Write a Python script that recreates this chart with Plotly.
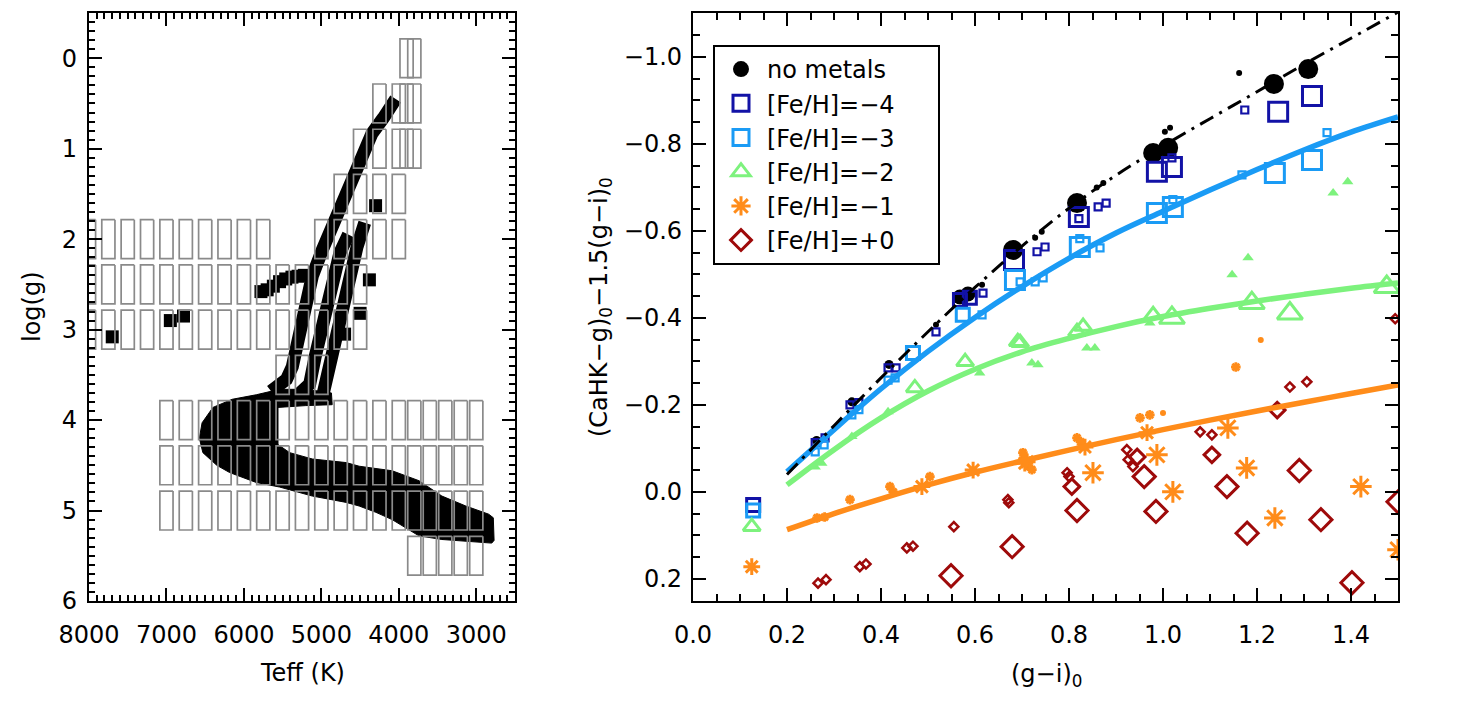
import plotly.graph_objects as go

# ================= LEFT PANEL DATA (Teff, log g) =================
ms_teff = [6575, 6540, 6400, 6150, 5840, 5540, 5200, 4870, 4860, 5200, 5560, 5560, 5410, 5117,
           4680, 4512, 4087, 3740, 3444, 3135, 2840, 2780, 2770, 2800, 3444, 3740, 4087, 4295,
           4512, 4680, 5117, 5540, 5840, 6185, 6350, 6530, 6575]
ms_logg = [4.20, 4.03, 3.86, 3.77, 3.72, 3.66, 3.66, 3.70, 3.83, 3.84, 3.86, 4.27, 4.36, 4.43,
           4.47, 4.51, 4.56, 4.67, 4.84, 4.95, 5.04, 5.08, 5.33, 5.36, 5.32, 5.28, 5.10, 5.02,
           4.95, 4.91, 4.84, 4.74, 4.69, 4.58, 4.50, 4.36, 4.20]

rgb1_teff = [5650, 5450, 5375, 5300, 5246, 5117, 4988, 4859, 4730, 4602, 4470, 4345, 4200, 4110, 4040]
rgb1_logg = [3.68, 3.55, 3.41, 3.15, 2.89, 2.41, 2.12, 1.86, 1.57, 1.31, 1.08, 0.83, 0.66, 0.54, 0.45]
rgb2_teff = [5300, 5150, 5080, 5000, 4870, 4760, 4650]
rgb2_logg = [3.72, 3.60, 3.30, 3.00, 2.50, 2.15, 1.95]
rgb3_teff = [4980, 4898, 4808, 4730, 4641, 4538, 4440]
rgb3_logg = [3.72, 3.41, 3.00, 2.78, 2.45, 2.08, 1.82]

pts_teff = [7700, 6950, 6780, 5780, 5700, 5620, 5540, 5460, 5380, 5300, 5220, 4300, 4380, 4500, 4700]
pts_logg = [3.08, 2.90, 2.85, 2.58, 2.56, 2.52, 2.47, 2.44, 2.42, 2.41, 2.40, 1.63, 2.45, 2.82, 3.05]

box_rows_logg = [0.0, 0.5, 1.0, 1.5, 2.0, 2.5, 3.0, 3.5, 4.0, 4.5, 5.0, 5.5]
box_rows_teff = [
    [3900, 3800],
    [4250, 4000, 3900, 3800],
    [4500, 4250, 4000, 3900, 3800],
    [4750, 4500, 4250, 4000],
    [8000, 7750, 7500, 7250, 7000, 6750, 6500, 6250, 6000, 5750, 5000, 4750, 4500, 4250, 4000],
    [8000, 7750, 7500, 7250, 7000, 6750, 6500, 6250, 6000, 5750, 5500, 5250, 5000, 4750, 4500],
    [8000, 7750, 7500, 7250, 7000, 6750, 6500, 6250, 6000, 5750, 5500, 5250, 5000, 4750, 4500],
    [5500, 5250, 5000],
    [7000, 6750, 6500, 6250, 6000, 5750, 5500, 5250, 5000, 4750, 4500, 4250, 4000, 3800, 3600, 3400, 3200, 3000],
    [7000, 6750, 6500, 6250, 6000, 5750, 5500, 5250, 5000, 4750, 4500, 4250, 4000, 3800, 3600, 3400, 3200, 3000],
    [7000, 6750, 6500, 6250, 6000, 5750, 5500, 5250, 5000, 4750, 4500, 4250, 4000, 3800, 3600, 3400, 3200, 3000],
    [3800, 3600, 3400, 3200, 3000],
]

left_xticks = [8000, 7000, 6000, 5000, 4000, 3000]
left_yticks = [0, 1, 2, 3, 4, 5, 6]

# ================= RIGHT PANEL DATA =================
nm_big_x = [0.681, 0.817, 0.979, 1.011, 1.236, 1.309]
nm_big_y = [-0.556, -0.664, -0.779, -0.791, -0.938, -0.972]
nm_mid_x = [0.568, 0.585]
nm_mid_y = [-0.448, -0.455]
nm_small_x = [0.263, 0.338, 0.417]
nm_small_y = [-0.118, -0.207, -0.293]
nm_tiny_x = [1.162, 1.004, 1.015, 0.859, 0.873, 0.728, 0.742, 0.615, 0.517]
nm_tiny_y = [-0.963, -0.828, -0.837, -0.700, -0.710, -0.584, -0.598, -0.476, -0.384]

m4_big_x = [1.317, 1.245, 1.019, 0.987, 0.821, 0.683]
m4_big_y = [-0.910, -0.874, -0.747, -0.736, -0.632, -0.533]
m4_mid_x = [0.568, 0.589, 0.128]
m4_mid_y = [-0.441, -0.446, 0.030]
m4_small_x = [0.260, 0.281, 0.334, 0.353, 0.415, 0.432, 0.517, 0.617, 0.732, 0.749, 0.862, 0.879, 0.821, 1.019, 1.174]
m4_small_y = [-0.113, -0.124, -0.200, -0.205, -0.285, -0.285, -0.368, -0.457, -0.552, -0.563, -0.655, -0.664, -0.628, -0.768, -0.878]

m3_big_x = [1.317, 1.238, 1.021, 0.987, 0.823, 0.685]
m3_big_y = [-0.763, -0.733, -0.655, -0.641, -0.563, -0.487]
m3_mid_x = [0.574, 0.468, 0.128]
m3_mid_y = [-0.407, -0.319, 0.043]
m3_small_x = [1.349, 1.168, 0.866, 0.745, 0.728, 0.696, 0.615, 0.415, 0.430, 0.338, 0.353, 0.260, 0.279, 1.021, 0.823]
m3_small_y = [-0.826, -0.729, -0.561, -0.492, -0.483, -0.483, -0.407, -0.257, -0.262, -0.177, -0.189, -0.092, -0.108, -0.672, -0.582]

m2_big_x = [1.476, 1.270, 1.189, 1.019]
m2_big_y = [-0.471, -0.410, -0.434, -0.400]
m2_mid_x = [0.979, 0.830, 0.817, 0.696, 0.691, 0.579, 0.472, 0.125]
m2_mid_y = [-0.407, -0.380, -0.368, -0.343, -0.345, -0.299, -0.239, 0.080]
m2_small_x = [0.415, 0.338, 0.260, 0.274, 0.610, 0.721, 0.734, 0.838, 0.855, 0.972, 1.362, 1.393, 1.147, 1.181]
m2_small_y = [-0.184, -0.127, -0.057, -0.066, -0.273, -0.296, -0.292, -0.331, -0.331, -0.388, -0.687, -0.713, -0.499, -0.538]

m1_big_x = [1.421, 1.238, 1.178, 1.138, 1.021, 0.987, 0.851, 1.500]
m1_big_y = [-0.012, 0.060, -0.055, -0.147, 0.000, -0.085, -0.044, 0.133]
m1_mid_x = [0.966, 0.834, 0.711, 0.706, 0.596, 0.487, 0.125]
m1_mid_y = [-0.136, -0.103, -0.069, -0.066, -0.050, -0.012, 0.172]
m1_small_x = [0.264, 0.280, 0.334, 0.419, 0.426, 0.504, 0.702, 0.721, 0.817, 0.825, 0.951, 0.972, 1.155]
m1_small_y = [0.060, 0.058, 0.018, -0.012, 0.000, -0.035, -0.090, -0.051, -0.124, -0.115, -0.170, -0.177, -0.287]
m1_dot_x = [1.000, 1.208]
m1_dot_y = [-0.181, -0.349]

m0_big_x = [1.402, 1.336, 1.290, 1.179, 1.136, 0.985, 0.960, 0.817, 0.679, 0.549, 1.500]
m0_big_y = [0.209, 0.064, -0.049, 0.095, -0.012, 0.045, -0.035, 0.043, 0.126, 0.193, 0.023]
m0_mid_x = [1.243, 1.104, 0.945, 0.806]
m0_mid_y = [-0.188, -0.085, -0.080, -0.012]
m0_small_x = [0.670, 0.672, 0.555, 0.455, 0.468, 0.355, 0.368, 0.266, 0.283, 0.796, 0.800, 0.923, 0.926, 0.936, 1.079, 1.104, 1.270, 1.306, 1.494]
m0_small_y = [0.018, 0.025, 0.080, 0.129, 0.125, 0.172, 0.166, 0.210, 0.202, -0.044, -0.035, -0.097, -0.074, -0.058, -0.138, -0.131, -0.241, -0.253, -0.398]

fit_x = [0.2, 0.3, 0.4, 0.5, 0.6, 0.7, 0.8, 0.9, 1.0, 1.1, 1.2, 1.3, 1.4, 1.5]
fit_nometal = [-0.040, -0.152, -0.262, -0.368, -0.470, -0.565, -0.652, -0.728, -0.795, -0.858, -0.920, -0.983, -1.043, -1.103]
fit_m3 = [-0.046, -0.143, -0.237, -0.323, -0.401, -0.472, -0.537, -0.595, -0.645, -0.694, -0.741, -0.786, -0.827, -0.862]
fit_m2 = [-0.016, -0.097, -0.170, -0.232, -0.282, -0.322, -0.353, -0.380, -0.403, -0.422, -0.439, -0.454, -0.468, -0.480]
fit_m1 = [0.087, 0.050, 0.016, -0.016, -0.045, -0.071, -0.096, -0.120, -0.143, -0.165, -0.186, -0.206, -0.226, -0.246]

right_xticks = [0.0, 0.2, 0.4, 0.6, 0.8, 1.0, 1.2, 1.4]
right_yticks = [-1.0, -0.8, -0.6, -0.4, -0.2, 0.0, 0.2]

legend_names = ["no metals", "[Fe/H]=−4", "[Fe/H]=−3", "[Fe/H]=−2", "[Fe/H]=−1", "[Fe/H]=+0"]

# ================= STYLE =================
FONT = "DejaVu Sans"
C_NM = "black"
C_M4 = "#1212A6"
C_M3 = "#1A9BF5"
C_M2 = "#7DF27D"
C_M1 = "#FF8C1A"
C_M0 = "#9E0A0A"
GRAY = "#8a8a8a"
PAD = "\u00a0" * 5   # invisible trailing room so the legend frame is as wide as the original

W, H = 1475, 709
ML, MR, MT, MB = 40, 30, 5, 60
PW, PH = W - ML - MR, H - MT - MB
def fx(p):
    return (p - ML) / PW
def fy(p):
    return (H - MB - p) / PH

fig = go.Figure()

# ---------- left panel ----------
fig.add_trace(go.Scatter(x=ms_teff, y=ms_logg, mode="lines", fill="toself", fillcolor="black",
                         line=dict(color="black", width=1), xaxis="x", yaxis="y", showlegend=False,
                         hoverinfo="skip"))
for tx, ty in [(rgb1_teff, rgb1_logg), (rgb2_teff, rgb2_logg), (rgb3_teff, rgb3_logg)]:
    fig.add_trace(go.Scatter(x=tx, y=ty, mode="lines", line=dict(color="black", width=13),
                             xaxis="x", yaxis="y", showlegend=False, hoverinfo="skip"))
fig.add_trace(go.Scatter(x=pts_teff, y=pts_logg, mode="markers",
                         marker=dict(symbol="square", size=13, color="black"),
                         xaxis="x", yaxis="y", showlegend=False, hoverinfo="skip"))

HW, HH = 85, 0.215
bx, by = [], []
for g, row in zip(box_rows_logg, box_rows_teff):
    for t in row:
        bx += [t - HW, t + HW, t + HW, t - HW, t - HW, None]
        by += [g - HH, g - HH, g + HH, g + HH, g - HH, None]
fig.add_trace(go.Scatter(x=bx, y=by, mode="lines", line=dict(color=GRAY, width=1.7),
                         xaxis="x", yaxis="y", showlegend=False, hoverinfo="skip"))

# ---------- right panel markers ----------
def mk(x, y, name, symbol, size, color, lw, show, filled=False):
    if filled:
        marker = dict(symbol=symbol, size=size, color=color, line=dict(width=0))
    else:
        marker = dict(symbol=symbol, size=size, color=color, line=dict(color=color, width=lw))
    fig.add_trace(go.Scatter(x=x, y=y, mode="markers", marker=marker, name=name, showlegend=show,
                             xaxis="x2", yaxis="y2", cliponaxis=True, hoverinfo="skip"))

mk(nm_big_x, nm_big_y, legend_names[0], "circle", 20, C_NM, 0, True, filled=True)
mk(nm_mid_x, nm_mid_y, "nm2", "circle", 15, C_NM, 0, False, filled=True)
mk(nm_small_x, nm_small_y, "nm3", "circle", 9, C_NM, 0, False, filled=True)
mk(nm_tiny_x, nm_tiny_y, "nm4", "circle", 6, C_NM, 0, False, filled=True)

mk(m4_big_x, m4_big_y, legend_names[1] + PAD, "square-open", 19, C_M4, 3, True)
mk(m4_mid_x, m4_mid_y, "m4b", "square-open", 13, C_M4, 3, False)
mk(m4_small_x, m4_small_y, "m4c", "square-open", 7, C_M4, 2.2, False)

mk(m3_big_x, m3_big_y, legend_names[2], "square-open", 19, C_M3, 3, True)
mk(m3_mid_x, m3_mid_y, "m3b", "square-open", 13, C_M3, 3, False)
mk(m3_small_x, m3_small_y, "m3c", "square-open", 7, C_M3, 2.2, False)

mk(m2_big_x, m2_big_y, legend_names[3], "triangle-up-open", 22, C_M2, 3, True)
mk(m2_mid_x, m2_mid_y, "m2b", "triangle-up-open", 15, C_M2, 3, False)
mk(m2_small_x, m2_small_y, "m2c", "triangle-up", 10, C_M2, 0, False, filled=True)

mk(m1_big_x, m1_big_y, legend_names[4], "asterisk-open", 18, C_M1, 3, True)
mk(m1_mid_x, m1_mid_y, "m1b", "asterisk-open", 14, C_M1, 3, False)
mk(m1_small_x, m1_small_y, "m1c", "asterisk-open", 8, C_M1, 2.8, False)
mk(m1_dot_x, m1_dot_y, "m1d", "circle", 6, C_M1, 0, False, filled=True)

mk(m0_big_x, m0_big_y, legend_names[5], "diamond-open", 17, C_M0, 3, True)
mk(m0_mid_x, m0_mid_y, "m0b", "diamond-open", 12, C_M0, 3, False)
mk(m0_small_x, m0_small_y, "m0c", "diamond-open", 7, C_M0, 2.5, False)

# ---------- right panel fits ----------
for fy_vals, col in [(fit_m3, C_M3), (fit_m2, C_M2), (fit_m1, C_M1)]:
    fig.add_trace(go.Scatter(x=fit_x, y=fy_vals, mode="lines",
                             line=dict(color=col, width=5.5, shape="spline", smoothing=1.0),
                             xaxis="x2", yaxis="y2", showlegend=False, hoverinfo="skip"))
fig.add_trace(go.Scatter(x=fit_x, y=fit_nometal, mode="lines",
                         line=dict(color="black", width=3, dash="15px,7px,3px,7px", shape="spline", smoothing=1.0),
                         xaxis="x2", yaxis="y2", showlegend=False, hoverinfo="skip"))

# empty traces that carry the mirrored (top / right) tick axes
fig.add_trace(go.Scatter(x=[], y=[], xaxis="x3", yaxis="y3", showlegend=False, hoverinfo="skip"))
fig.add_trace(go.Scatter(x=[], y=[], xaxis="x4", yaxis="y4", showlegend=False, hoverinfo="skip"))

# ---------- layout ----------
tickfont = dict(family=FONT, size=24, color="black")
base = dict(showgrid=False, zeroline=False, ticks="inside", tickwidth=2, tickcolor="black")

def minor(dt, ln):
    return dict(ticks="inside", ticklen=ln, tickwidth=1.5, tickcolor="black", dtick=dt, tick0=0)

xl_dom = [fx(89), fx(515)]
xr_dom = [fx(693), fx(1398)]
y_dom = [fy(601), fy(13)]
xl_rng = [8000, 2500]
yl_rng = [6.0, -0.5]
xr_rng = [0, 1.5]
yr_rng = [0.251, -1.101]

title_font = dict(family=FONT, size=24, color="black")

fig.update_layout(
    width=W, height=H,
    margin=dict(l=ML, r=MR, t=MT, b=MB, autoexpand=False),
    paper_bgcolor="white", plot_bgcolor="white",
    showlegend=True,
    xaxis=dict(domain=xl_dom, range=xl_rng, tickvals=left_xticks, anchor="y",
               showline=True, linecolor="black", linewidth=2.2, mirror=True,
               ticklen=13, ticklabelstandoff=11, tickfont=tickfont, minor=minor(100, 6), **base),
    yaxis=dict(domain=y_dom, range=yl_rng, tickvals=left_yticks, anchor="x",
               showline=True, linecolor="black", linewidth=2.2, mirror=True,
               ticklen=13, ticklabelstandoff=5, tickfont=tickfont, minor=minor(0.1, 6), **base),
    xaxis3=dict(domain=xl_dom, range=xl_rng, tickvals=left_xticks, anchor="y", overlaying="x",
                side="top", showticklabels=False, ticklen=13, minor=minor(100, 6), **base),
    yaxis3=dict(domain=y_dom, range=yl_rng, tickvals=left_yticks, anchor="x", overlaying="y",
                side="right", showticklabels=False, ticklen=13, minor=minor(0.1, 6), **base),
    xaxis2=dict(domain=xr_dom, range=xr_rng, tickvals=right_xticks, tickformat=".1f", anchor="y2",
                showline=True, linecolor="black", linewidth=2.2, mirror=True,
                ticklen=13, ticklabelstandoff=11, tickfont=tickfont, minor=minor(0.05, 7), **base),
    yaxis2=dict(domain=y_dom, range=yr_rng, tickvals=right_yticks, tickformat=".1f", anchor="x2",
                showline=True, linecolor="black", linewidth=2.2, mirror=True,
                ticklen=13, ticklabelstandoff=4, tickfont=tickfont, minor=minor(0.05, 7), **base),
    xaxis4=dict(domain=xr_dom, range=xr_rng, tickvals=right_xticks, anchor="y2", overlaying="x2",
                side="top", showticklabels=False, ticklen=13, minor=minor(0.05, 7), **base),
    yaxis4=dict(domain=y_dom, range=yr_rng, tickvals=right_yticks, anchor="x2", overlaying="y2",
                side="right", showticklabels=False, ticklen=13, minor=minor(0.05, 7), **base),
    legend=dict(x=fx(713), y=fy(45), xanchor="left", yanchor="top",
                bordercolor="black", borderwidth=2, bgcolor="white",
                font=dict(family=FONT, size=24, color="black"),
                tracegroupgap=0, itemsizing="trace", itemwidth=42),
    annotations=[
        dict(text="Teff (K)", x=fx(302), y=fy(673), xref="paper", yref="paper",
             xanchor="center", yanchor="middle", showarrow=False, font=title_font),
        dict(text="log(g)", x=fx(32), y=fy(307), xref="paper", yref="paper", textangle=-90,
             xanchor="center", yanchor="middle", showarrow=False, font=title_font),
        dict(text="(g−i)<sub>0</sub>", x=fx(1046), y=fy(675), xref="paper", yref="paper",
             xanchor="center", yanchor="middle", showarrow=False, font=title_font),
        dict(text="(CaHK−g)<sub>0</sub>−1.5(g−i)<sub>0</sub>", x=fx(600), y=fy(307),
             xref="paper", yref="paper", textangle=-90,
             xanchor="center", yanchor="middle", showarrow=False, font=title_font),
    ],
)

fig.write_html("out.html")
